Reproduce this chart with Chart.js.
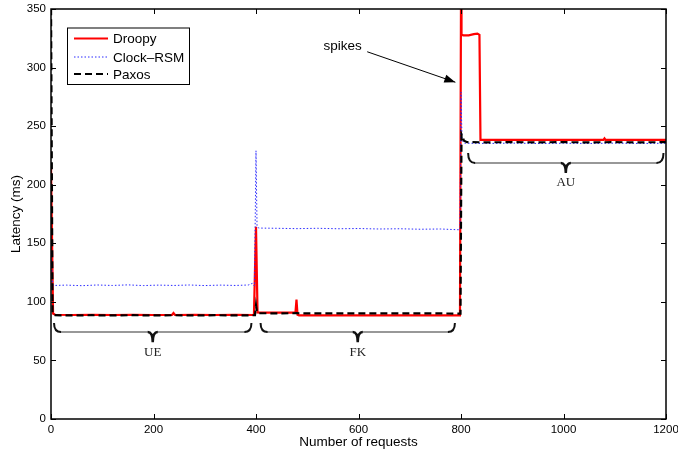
<!DOCTYPE html>
<html><head><meta charset="utf-8">
<script src="https://cdn.jsdelivr.net/npm/chart.js@4"></script>
<style>html,body{margin:0;padding:0;background:#fff}</style>
</head><body>
<canvas id="c" width="678" height="455" style="width:678px;height:455px;display:block"></canvas>
<script>
// ---- tick labels ----
const xTickValues = [0, 200, 400, 600, 800, 1000, 1200];
const yTickValues = [0, 50, 100, 150, 200, 250, 300, 350];

// ---- series: Droopy ----
const droopyReq = [0, 4, 8, 40, 80, 120, 160, 200, 236, 239, 242, 280, 320, 360, 396, 400, 403, 408, 440, 477, 479, 481, 484, 520, 560, 600, 640, 680, 720, 760, 798, 800, 801, 805, 815, 825, 832, 836, 838, 860, 900, 950, 1000, 1050, 1078, 1080, 1082, 1120, 1160, 1200];
const droopyLat = [215, 90, 89, 88.8, 89, 88.8, 89, 88.8, 88.8, 90.5, 88.8, 89, 88.8, 89, 88.8, 164, 91, 90.8, 90.8, 90.8, 102, 89, 88.5, 88.5, 88.5, 88.5, 88.5, 88.5, 88.5, 88.5, 88.5, 360, 328, 327.5, 327.5, 328.5, 329, 328, 238.2, 238.2, 238.2, 238.2, 238.2, 238.2, 238.2, 239.5, 238.2, 238.2, 238.2, 238.2];

// ---- series: Clock-RSM ----
const clockReq = [0, 3, 6, 30, 60, 90, 120, 150, 180, 210, 240, 270, 300, 330, 360, 385, 393, 397, 400, 402, 405, 440, 480, 520, 560, 600, 640, 680, 720, 760, 798, 800, 802, 806, 850, 900, 950, 1000, 1050, 1100, 1150, 1200];
const clockLat = [142, 115, 114, 114.3, 113.8, 114.4, 114, 114.5, 113.9, 114.3, 114, 114.4, 113.9, 114.3, 114, 114.4, 115.8, 113.5, 229, 165, 163, 162.8, 162.5, 162.8, 162.4, 162.6, 162.2, 162.4, 162, 162.2, 161.5, 279, 238, 235.5, 235.2, 235.5, 235.2, 235.4, 235.2, 235.5, 235.2, 235.4];

// ---- series: Paxos ----
const paxosReq = [0, 3, 6, 40, 80, 120, 160, 200, 240, 280, 320, 360, 398, 400, 402, 405, 440, 480, 520, 560, 600, 640, 680, 720, 760, 799, 801, 806, 812, 850, 900, 950, 1000, 1050, 1100, 1150, 1200];
const paxosLat = [360, 90, 88.6, 88.4, 88.6, 88.4, 88.6, 88.4, 88.6, 88.4, 88.6, 88.4, 88.6, 97, 91, 90.3, 90.2, 90.3, 90.1, 90.2, 90.1, 90.2, 90.1, 90.2, 90.1, 90, 243, 237.5, 236.3, 236.2, 236.3, 236.2, 236.3, 236.2, 236.3, 236.2, 236.3];

const toPts = (xs, ys) => xs.map((x, i) => ({x: x, y: ys[i]}));

const tickFont = {family: '"Liberation Sans", Arial, sans-serif', size: 11.5};
const titleFont = {family: '"Liberation Sans", Arial, sans-serif', size: 13.5};

const decor = {
  id: 'decor',
  afterDatasetsDraw(chart) {
    const ctx = chart.ctx, a = chart.chartArea;
    const xs = chart.scales.x, ys = chart.scales.y;
    const px = v => xs.getPixelForValue(v), py = v => ys.getPixelForValue(v);
    ctx.save();
    // frame
    ctx.strokeStyle = '#000'; ctx.lineWidth = 1.5;
    ctx.strokeRect(a.left, a.top, a.right - a.left, a.bottom - a.top);
    // inward ticks
    ctx.lineWidth = 1;
    const tl = 5;
    xTickValues.forEach(v => {
      const x = Math.round(px(v)) + 0.5;
      ctx.beginPath(); ctx.moveTo(x, a.bottom); ctx.lineTo(x, a.bottom - tl);
      ctx.moveTo(x, a.top); ctx.lineTo(x, a.top + tl); ctx.stroke();
    });
    yTickValues.forEach(v => {
      const y = Math.round(py(v)) + 0.5;
      ctx.beginPath(); ctx.moveTo(a.left, y); ctx.lineTo(a.left + tl, y);
      ctx.moveTo(a.right, y); ctx.lineTo(a.right - tl, y); ctx.stroke();
    });
    // braces
    const braces = [
      {from: 2, to: 395, top: 82, line: 74.3, cusp: 65.5, label: 57, text: 'UE'},
      {from: 405, to: 792, top: 82, line: 74.3, cusp: 65.5, label: 57, text: 'FK'},
      {from: 810, to: 1199, top: 227, line: 218.5, cusp: 210, label: 201.5, text: 'AU'}
    ];
    braces.forEach(b => {
      const x0 = px(b.from) + 2, x1 = px(b.to) - 2, xm = (x0 + x1) / 2;
      const yt = py(b.top), yl = py(b.line), yc = py(b.cusp);
      ctx.strokeStyle = '#777'; ctx.lineWidth = 1.5;
      ctx.beginPath(); ctx.moveTo(x0 + 6, yl); ctx.lineTo(xm - 4, yl);
      ctx.moveTo(xm + 4, yl); ctx.lineTo(x1 - 6, yl); ctx.stroke();
      ctx.strokeStyle = '#111'; ctx.lineWidth = 2;
      ctx.beginPath(); ctx.moveTo(x0, yt); ctx.quadraticCurveTo(x0, yl, x0 + 7, yl); ctx.stroke();
      ctx.beginPath(); ctx.moveTo(x1, yt); ctx.quadraticCurveTo(x1, yl, x1 - 7, yl); ctx.stroke();
      ctx.lineWidth = 2.5;
      ctx.beginPath(); ctx.moveTo(xm - 5, yl); ctx.quadraticCurveTo(xm, yl, xm, yc);
      ctx.quadraticCurveTo(xm, yl, xm + 5, yl); ctx.stroke();
      ctx.fillStyle = '#222';
      ctx.font = '13px "Liberation Serif", "Times New Roman", serif';
      ctx.textAlign = 'center'; ctx.textBaseline = 'middle';
      ctx.fillText(b.text, xm, py(b.label));
    });
    // spikes annotation
    ctx.fillStyle = '#000';
    ctx.font = '13.5px "Liberation Sans", Arial, sans-serif';
    ctx.textAlign = 'center'; ctx.textBaseline = 'middle';
    ctx.fillText('spikes', px(569), py(318.4));
    const sx = px(617), sy = py(313.5), ex = px(789), ey = py(287.5);
    ctx.strokeStyle = '#000'; ctx.lineWidth = 1;
    ctx.beginPath(); ctx.moveTo(sx, sy); ctx.lineTo(ex, ey); ctx.stroke();
    const ang = Math.atan2(ey - sy, ex - sx), L = 11, W = 4;
    ctx.beginPath(); ctx.moveTo(ex, ey);
    ctx.lineTo(ex - L * Math.cos(ang) + W * Math.sin(ang), ey - L * Math.sin(ang) - W * Math.cos(ang));
    ctx.lineTo(ex - L * Math.cos(ang) - W * Math.sin(ang), ey - L * Math.sin(ang) + W * Math.cos(ang));
    ctx.closePath(); ctx.fill();
    // legend
    const lx = 67, ly = 27.5, lw = 122, lh = 56.5;
    ctx.fillStyle = '#fff'; ctx.fillRect(lx, ly, lw, lh);
    ctx.strokeStyle = '#000'; ctx.lineWidth = 1; ctx.strokeRect(lx + 0.5, ly + 0.5, lw, lh);
    chart.data.datasets.forEach((ds, i) => {
      const yy = [38.5, 57, 74][i];
      ctx.strokeStyle = ds.borderColor; ctx.lineWidth = ds.borderWidth;
      ctx.setLineDash(ds.borderDash || []);
      ctx.beginPath(); ctx.moveTo(74, yy); ctx.lineTo(108, yy); ctx.stroke();
      ctx.setLineDash([]);
      ctx.fillStyle = '#000'; ctx.textAlign = 'left'; ctx.textBaseline = 'middle';
      ctx.font = '13.5px "Liberation Sans", Arial, sans-serif';
      ctx.fillText(ds.label, 113, yy + 1);
    });
    ctx.restore();
  }
};

new Chart(document.getElementById('c'), {
  type: 'line',
  data: {
    datasets: [
      {label: 'Droopy', data: toPts(droopyReq, droopyLat), borderColor: '#ff0000', borderWidth: 2.2, pointRadius: 0, tension: 0, order: 2},
      {label: 'Clock–RSM', data: toPts(clockReq, clockLat), borderColor: '#2a2aff', borderWidth: 1, borderDash: [1.5, 2], pointRadius: 0, tension: 0, order: 1},
      {label: 'Paxos', data: toPts(paxosReq, paxosLat), borderColor: '#000000', borderWidth: 2.2, borderDash: [7, 4], pointRadius: 0, tension: 0, order: 0}
    ]
  },
  options: {
    responsive: false, animation: false, devicePixelRatio: 1,
    layout: {padding: {left: 0, right: 12, top: 9, bottom: 0}},
    plugins: {legend: {display: false}, tooltip: {enabled: false}},
    scales: {
      x: {
        type: 'linear', min: 0, max: 1200,
        afterBuildTicks: s => { s.ticks = xTickValues.map(v => ({value: v})); },
        ticks: {font: tickFont, color: '#000', padding: 4, maxRotation: 0, autoSkip: false, callback: v => String(v)},
        grid: {display: false, drawTicks: false}, border: {display: false},
        title: {display: true, text: 'Number of requests', font: titleFont, color: '#000', padding: {top: 0, bottom: 5}},
        afterFit: s => { s.height = 36; s.paddingLeft = 0; s.paddingRight = 0; }
      },
      y: {
        type: 'linear', min: 0, max: 350,
        afterBuildTicks: s => { s.ticks = yTickValues.map(v => ({value: v})); },
        ticks: {font: tickFont, color: '#000', padding: 5, autoSkip: false, callback: v => String(v)},
        grid: {display: false, drawTicks: false}, border: {display: false},
        title: {display: true, text: 'Latency (ms)', font: titleFont, color: '#000', padding: {top: 8, bottom: 0}},
        afterFit: s => { s.width = 51; s.paddingTop = 0; s.paddingBottom = 0; }
      }
    }
  },
  plugins: [decor]
});
</script>
</body></html>
